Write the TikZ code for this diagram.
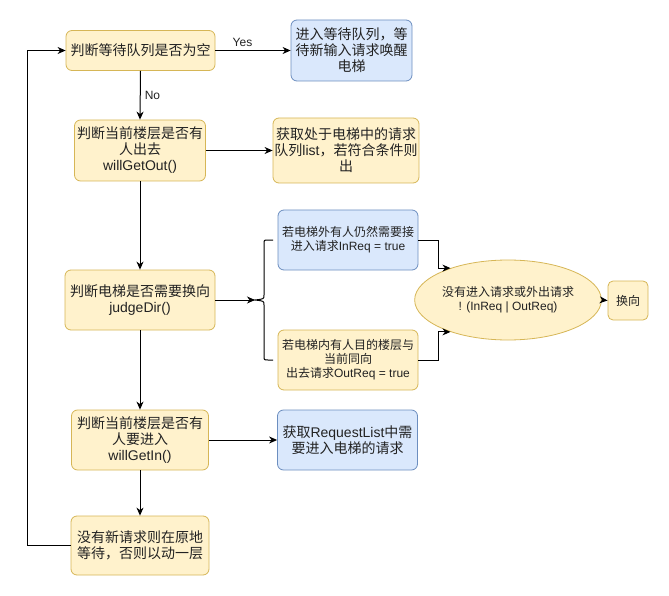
\documentclass[tikz,border=0pt]{standalone}
\usepackage{fontspec}
\setmainfont{Noto Sans CJK SC}
\newfontfamily\lat{Liberation Sans}
\usetikzlibrary{arrows.meta,shapes.geometric}
\definecolor{yfill}{HTML}{FFF2CC}
\definecolor{ydraw}{HTML}{D6B656}
\definecolor{bfill}{HTML}{DAE8FC}
\definecolor{bdraw}{HTML}{6C8EBF}
\definecolor{txt}{HTML}{222222}
\tikzset{
  base/.style={rounded corners=6pt, align=center, inner sep=1pt, line width=0.8pt, text=txt},
  ybox/.style={base, fill=yfill, draw=ydraw},
  bbox/.style={base, fill=bfill, draw=bdraw},
  big/.style={font=\fontsize{14}{16}\selectfont},
  small/.style={font=\fontsize{12}{14}\selectfont},
  arr/.style={-{Stealth[length=8pt,width=7pt,inset=2.5pt]}, line width=1pt, black},
  lbl/.style={font=\lat\fontsize{12}{14}\selectfont, inner sep=1pt, text=txt}
}
\begin{document}
\begin{tikzpicture}[x=1pt,y=-1pt]
\useasboundingbox (0,0) rectangle (669,596);
\node[ybox,big,minimum width=149pt,minimum height=40pt] (q) at (140.5,50.5) {判断等待队列是否为空};
\node[bbox,big,minimum width=121pt,minimum height=61pt] (wait) at (351.5,50.5) {进入等待队列，等\\待新输入请求唤醒\\电梯};
\node[ybox,big,minimum width=131pt,minimum height=61pt] (out) at (140,150.5) {判断当前楼层是否有\\人出去\\{\lat willGetOut()}};
\node[ybox,big,minimum width=146pt,minimum height=65pt] (outlist) at (346,150.5) {获取处于电梯中的请求\\队列{\lat list}，若符合条件则\\出};
\node[ybox,big,minimum width=150pt,minimum height=60pt] (dir) at (140,300) {判断电梯是否需要换向\\{\lat judgeDir()}};
\node[bbox,small,minimum width=140pt,minimum height=60pt] (inb) at (348,240) {若电梯外有人仍然需要接\\进入请求{\lat InReq = true}};
\node[ybox,small,minimum width=140pt,minimum height=60pt] (outb) at (348,360) {若电梯内有人目的楼层与\\当前同向\\出去请求{\lat OutReq = true}};
\node[ellipse,fill=yfill,draw=ydraw,line width=0.8pt,align=center,inner sep=0pt,small,text=txt,minimum width=140pt,minimum height=80pt] (ell) at (508,300) {没有进入请求或外出请求\\{\lat ! (InReq | OutReq)}};
\node[ybox,small,minimum width=40pt,minimum height=39pt,rounded corners=5pt] (turn) at (628,300.5) {换向};
\node[ybox,big,minimum width=137pt,minimum height=60pt] (in) at (140,440) {判断当前楼层是否有\\人要进入\\{\lat willGetIn()}};
\node[bbox,big,minimum width=140pt,minimum height=60pt] (req) at (347.5,440) {获取{\lat RequestList}中需\\要进入电梯的请求};
\node[ybox,big,minimum width=138pt,minimum height=59pt] (mv) at (140,545.5) {没有新请求则在原地\\等待，否则以动一层};
% brace
\coordinate (br) at (255,300);
\draw[line width=1pt] (273,240) -- (268,240) .. controls (264,240) .. (264,244) -- (264,295) .. controls (264,299) .. (br) .. controls (264,301) .. (264,305) -- (264,356) .. controls (264,360) .. (268,360) -- (273,360);
% connectors
\draw[arr] (q.east) -- node[lbl,above,pos=0.36,yshift=2pt] {Yes} (wait.west);
\draw[arr] (q.south) -- node[lbl,right,pos=0.5,xshift=3pt] {No} (out.north);
\draw[arr] (out.east) -- (outlist.west);
\draw[arr] (out.south) -- (dir.north);
\draw[arr] (dir.east) -- (br);
\draw[arr] (inb.east) -- ++(20,0) |- (ell.151);
\draw[arr] (outb.east) -- ++(20,0) |- (ell.209);
\draw[arr] (ell.east) -- (turn.west);
\draw[arr] (dir.south) -- (in.north);
\draw[arr] (in.east) -- (req.west);
\draw[arr] (in.south) -- (mv.north);
\draw[arr] (mv.west) -- ++(-43,0) |- (q.west);
\end{tikzpicture}
\end{document}
